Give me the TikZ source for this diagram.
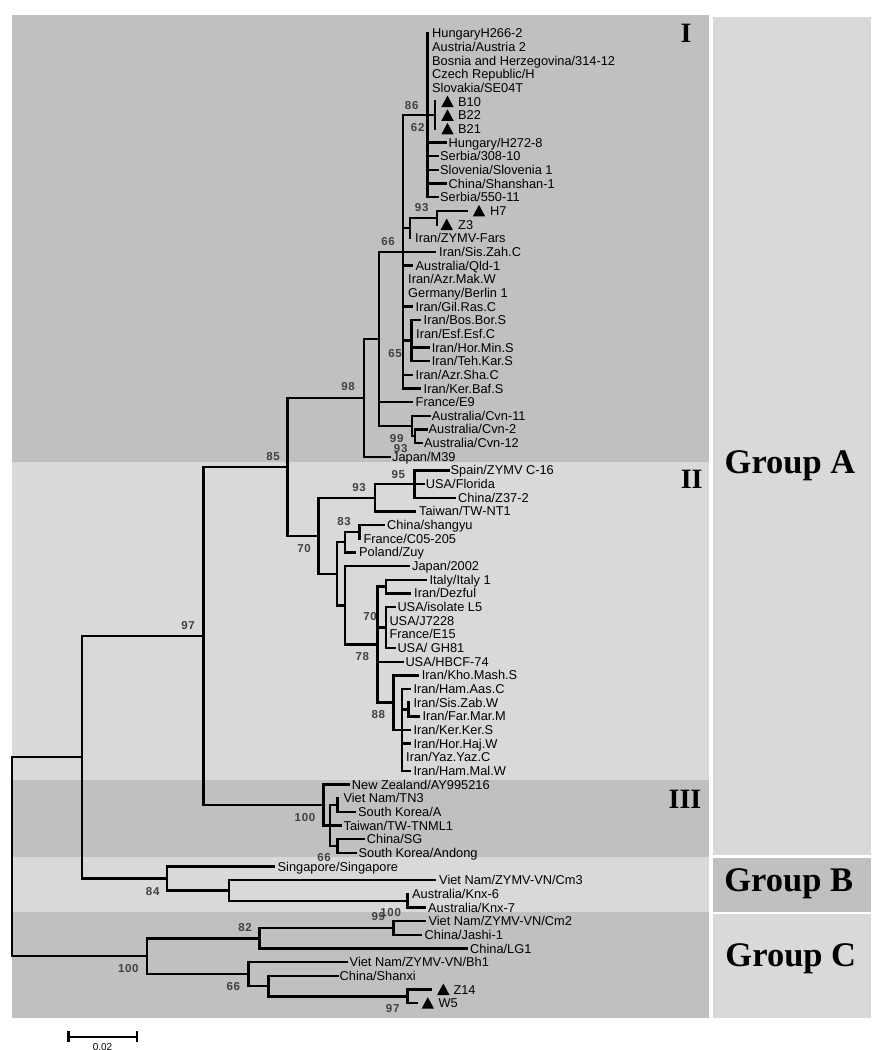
\documentclass[tikz,border=0pt]{standalone}
\usepackage{fontspec}
\setmainfont{Liberation Sans}
\newfontfamily\tipfont{Liberation Sans}
\newfontfamily\bsfont[LetterSpace=6]{Liberation Sans}
\newfontfamily\grpfont{Liberation Serif}
\definecolor{darkband}{RGB}{192,192,192}
\definecolor{lightband}{RGB}{217,217,217}
\definecolor{bsgray}{RGB}{64,64,64}
\newcommand{\mkleaf}[6]{%
  \coordinate (t#1) at (#3,#4);
  \draw[br] (#2) |- (t#1);
  \node[tip] (l#1) at (#5,#4) {#6};}
\newcommand{\bsv}[4]{\node[bs] (#1) at (#2,#3) {#4};}
\newcommand{\mytri}[1]{\fill (#1) ++(-6.2,5.5) -- ++(12.4,0) -- ++(-6.2,-11.5) -- cycle;}
\begin{document}
\begin{tikzpicture}[x=1pt,y=-1pt,
  br/.style={line width=2.4pt, line join=miter, line cap=rect, black},
  tip/.style={anchor=west, inner sep=0pt, font=\tipfont\fontsize{12.8}{13}\selectfont, text height=9.1pt, text depth=0pt},
  bs/.style={inner sep=0pt, font=\bsfont\bfseries\fontsize{11.5}{12}\selectfont, text=bsgray, text height=8.3pt, text depth=0pt},
  roman/.style={inner sep=0pt, anchor=base, font=\grpfont\bfseries\fontsize{28}{30}\selectfont},
  grp/.style={inner sep=0pt, anchor=base, font=\grpfont\bfseries\fontsize{34.5}{36}\selectfont}]
\useasboundingbox (0,0) rectangle (871,1050);
% background bands
\fill[darkband] (12,15) rectangle (709,462);
\fill[lightband] (12,462) rectangle (709,780);
\fill[darkband] (12,780) rectangle (709,857);
\fill[lightband] (12,857) rectangle (709,912);
\fill[darkband] (12,912) rectangle (709,1018);
\fill[lightband] (713,17) rectangle (871,855);
\fill[darkband] (713,858) rectangle (871,912);
\fill[lightband] (713,914) rectangle (871,1018);
% internal nodes
\coordinate (root) at (11.7,856.7);
\coordinate (A) at (81.7,757.2);
\coordinate (GA) at (203.3,635.95);
\coordinate (N85) at (287.3,466.8);
\coordinate (P98) at (364,397.9);
\coordinate (P66) at (379,338.95);
\coordinate (PP) at (403,251.9);
\coordinate (P86) at (427.3,115.25);
\coordinate (PB) at (435,115.25);
\coordinate (PF) at (410,227.95);
\coordinate (P93) at (436.7,217.7);
\coordinate (P65) at (411.5,340.65);
\coordinate (PC99) at (411.7,426.0);
\coordinate (PC93) at (415,436.25);
\coordinate (Q70) at (318.3,535.7);
\coordinate (Q93) at (375,497.7);
\coordinate (Q95) at (414.3,484.05);
\coordinate (QX) at (336.7,573.7);
\coordinate (Q83p) at (345,542.15);
\coordinate (Q83) at (359.3,531.9);
\coordinate (QY) at (345,605.3);
\coordinate (Q78) at (377.3,644.6);
\coordinate (QIt) at (386,586.55);
\coordinate (QUSA) at (386,627.5);
\coordinate (Q88) at (393.3,702.6);
\coordinate (QZ) at (401.7,729.95);
\coordinate (QW) at (408.3,709.45);
\coordinate (R100) at (323.3,805.1);
\coordinate (R330) at (330,825.6);
\coordinate (RT) at (337.3,805.1);
\coordinate (RSG) at (337.3,846.05);
\coordinate (B84) at (166.7,878.5);
\coordinate (B2) at (228.7,890.45);
\coordinate (BK) at (407.3,900.7);
\coordinate (C100) at (146.7,956.2);
\coordinate (C82) at (259.3,938.3);
\coordinate (C99) at (393.3,928.05);
\coordinate (C66) at (248.3,974.15);
\coordinate (CS) at (268.3,986.1);
\coordinate (C97) at (407.3,996.35);
% internal edges
\draw[br] (root) |- (A); \draw[br] (root) |- (C100);
\draw[br] (A) |- (GA); \draw[br] (A) |- (B84);
\draw[br] (GA) |- (N85); \draw[br] (GA) |- (R100);
\draw[br] (N85) |- (P98); \draw[br] (N85) |- (Q70);
\draw[br] (P98) |- (P66);
\draw[br] (P66) |- (PP); \draw[br] (P66) |- (PC99);
\draw[br] (PP) |- (P86); \draw[br] (PP) |- (PF); \draw[br] (PP) |- (P65);
\draw[br] (P86) |- (PB);
\draw[br] (PF) |- (P93);
\draw[br] (PC99) |- (PC93);
\draw[br] (Q70) |- (Q93); \draw[br] (Q70) |- (QX);
\draw[br] (Q93) |- (Q95);
\draw[br] (QX) |- (Q83p); \draw[br] (QX) |- (QY);
\draw[br] (Q83p) |- (Q83);
\draw[br] (QY) |- (Q78);
\draw[br] (Q78) |- (QIt); \draw[br] (Q78) |- (QUSA); \draw[br] (Q78) |- (Q88);
\draw[br] (Q88) |- (QZ);
\draw[br] (QZ) |- (QW);
\draw[br] (R100) |- (R330);
\draw[br] (R330) |- (RT); \draw[br] (R330) |- (RSG);
\draw[br] (B84) |- (B2);
\draw[br] (B2) |- (BK);
\draw[br] (C100) |- (C82); \draw[br] (C100) |- (C66);
\draw[br] (C82) |- (C99);
\draw[br] (C66) |- (CS);
\draw[br] (CS) |- (C97);
% leaves
\mkleaf{0}{P86}{427.3}{33.3}{432}{HungaryH266-2}
\mkleaf{1}{P86}{427.3}{47.0}{432}{Austria/Austria 2}
\mkleaf{2}{P86}{427.3}{60.6}{432}{Bosnia and Herzegovina/314-12}
\mkleaf{3}{P86}{427.3}{74.3}{432}{Czech Republic/H}
\mkleaf{4}{P86}{427.3}{87.9}{432}{Slovakia/SE04T}
\mkleaf{5}{PB}{435}{101.6}{458}{B10}
\mkleaf{6}{PB}{435}{115.3}{458}{B22}
\mkleaf{7}{PB}{435}{128.9}{458}{B21}
\mkleaf{8}{P86}{446}{142.6}{448.5}{Hungary/H272-8}
\mkleaf{9}{P86}{437.3}{156.2}{440}{Serbia/308-10}
\mkleaf{10}{P86}{437.3}{169.9}{440}{Slovenia/Slovenia 1}
\mkleaf{11}{P86}{446}{183.6}{448.5}{China/Shanshan-1}
\mkleaf{12}{P86}{437.3}{197.2}{440}{Serbia/550-11}
\mkleaf{13}{P93}{466.7}{210.9}{490}{H7}
\mkleaf{14}{P93}{436.7}{224.5}{458}{Z3}
\mkleaf{15}{PF}{410}{238.2}{415}{Iran/ZYMV-Fars}
\mkleaf{16}{PP}{435}{251.9}{439}{Iran/Sis.Zah.C}
\mkleaf{17}{PP}{412}{265.5}{415.5}{Australia/Qld-1}
\mkleaf{18}{PP}{403}{279.2}{408}{Iran/Azr.Mak.W}
\mkleaf{19}{PP}{403}{292.8}{408}{Germany/Berlin 1}
\mkleaf{20}{PP}{412}{306.5}{415.5}{Iran/Gil.Ras.C}
\mkleaf{21}{P65}{420}{320.2}{423.5}{Iran/Bos.Bor.S}
\mkleaf{22}{P65}{411.5}{333.8}{416}{Iran/Esf.Esf.C}
\mkleaf{23}{P65}{429}{347.5}{431.7}{Iran/Hor.Min.S}
\mkleaf{24}{P65}{429}{361.1}{431.7}{Iran/Teh.Kar.S}
\mkleaf{25}{PP}{412}{374.8}{415.5}{Iran/Azr.Sha.C}
\mkleaf{26}{PP}{420}{388.5}{423.5}{Iran/Ker.Baf.S}
\mkleaf{27}{P66}{412}{402.1}{415.5}{France/E9}
\mkleaf{28}{PC99}{429.3}{415.8}{431.7}{Australia/Cvn-11}
\mkleaf{29}{PC93}{426.7}{429.4}{428.5}{Australia/Cvn-2}
\mkleaf{30}{PC93}{421.7}{443.1}{424}{Australia/Cvn-12}
\mkleaf{31}{P98}{390}{456.8}{392}{Japan/M39}
\mkleaf{32}{Q95}{448.3}{470.4}{450.5}{Spain/ZYMV C-16}
\mkleaf{33}{Q95}{423.3}{484.1}{425.7}{USA/Florida}
\mkleaf{34}{Q95}{455}{497.7}{458}{China/Z37-2}
\mkleaf{35}{Q93}{415}{511.4}{419}{Taiwan/TW-NT1}
\mkleaf{36}{Q83}{383.3}{525.1}{387}{China/shangyu}
\mkleaf{37}{Q83}{359.3}{538.7}{363.3}{France/C05-205}
\mkleaf{38}{Q83p}{355}{552.4}{359}{Poland/Zuy}
\mkleaf{39}{QY}{408.3}{566.0}{412}{Japan/2002}
\mkleaf{40}{QIt}{425.7}{579.7}{429.3}{Italy/Italy 1}
\mkleaf{41}{QIt}{410}{593.4}{414}{Iran/Dezful}
\mkleaf{42}{QUSA}{395}{607.0}{397.3}{USA/isolate L5}
\mkleaf{43}{QUSA}{386}{620.7}{389.3}{USA/J7228}
\mkleaf{44}{QUSA}{386}{634.3}{389.3}{France/E15}
\mkleaf{45}{QUSA}{395}{648.0}{397.3}{USA/ GH81}
\mkleaf{46}{Q78}{402.7}{661.7}{405.3}{USA/HBCF-74}
\mkleaf{47}{Q88}{417.3}{675.3}{421.7}{Iran/Kho.Mash.S}
\mkleaf{48}{QZ}{410}{689.0}{413.3}{Iran/Ham.Aas.C}
\mkleaf{49}{QW}{408.3}{702.6}{413.3}{Iran/Sis.Zab.W}
\mkleaf{50}{QW}{418.3}{716.3}{422.3}{Iran/Far.Mar.M}
\mkleaf{51}{QZ}{410}{730.0}{413.3}{Iran/Ker.Ker.S}
\mkleaf{52}{QZ}{410}{743.6}{413.3}{Iran/Hor.Haj.W}
\mkleaf{53}{QZ}{401.7}{757.3}{406}{Iran/Yaz.Yaz.C}
\mkleaf{54}{QZ}{410}{770.9}{413.3}{Iran/Ham.Mal.W}
\mkleaf{55}{R100}{348.3}{784.6}{351.7}{New Zealand/AY995216}
\mkleaf{56}{RT}{337.3}{798.3}{343.3}{Viet Nam/TN3}
\mkleaf{57}{RT}{355}{811.9}{358}{South Korea/A}
\mkleaf{58}{R330}{340.5}{825.6}{343.5}{Taiwan/TW-TNML1}
\mkleaf{59}{RSG}{363.3}{839.2}{366.7}{China/SG}
\mkleaf{60}{RSG}{355.5}{852.9}{358.5}{South Korea/Andong}
\mkleaf{61}{B84}{273.3}{866.6}{277.5}{Singapore/Singapore}
\mkleaf{62}{B2}{435}{880.2}{439}{Viet Nam/ZYMV-VN/Cm3}
\mkleaf{63}{BK}{407.3}{893.9}{412}{Australia/Knx-6}
\mkleaf{64}{BK}{424.3}{907.5}{428}{Australia/Knx-7}
\mkleaf{65}{C99}{425}{921.2}{428.3}{Viet Nam/ZYMV-VN/Cm2}
\mkleaf{66}{C99}{420.7}{934.9}{424.5}{China/Jashi-1}
\mkleaf{67}{C82}{466.7}{948.5}{470}{China/LG1}
\mkleaf{68}{C66}{346.7}{962.2}{349.5}{Viet Nam/ZYMV-VN/Bh1}
\mkleaf{69}{CS}{337.3}{975.8}{339.5}{China/Shanxi}
\mkleaf{70}{C97}{431}{989.5}{453.3}{Z14}
\mkleaf{71}{C97}{416.7}{1003.2}{438.3}{W5}
% triangles
\mytri{447.5,101.6}
\mytri{447.5,115.3}
\mytri{447.5,128.9}
\mytri{479,210.9}
\mytri{446.7,224.5}
\mytri{443.3,989.5}
\mytri{427.8,1003.2}
% bootstrap values
\bsv{b1}{411.7}{105}{86}
\bsv{b2}{417.7}{127.3}{62}
\bsv{b3}{421.7}{207.3}{93}
\bsv{b4}{388}{241.7}{66}
\bsv{b5}{395}{353.3}{65}
\bsv{b6}{348}{386.7}{98}
\bsv{b7}{396.7}{438.3}{99}
\bsv{b8}{400.7}{448.3}{93}
\bsv{b9}{273}{456.7}{85}
\bsv{b10}{398.3}{474}{95}
\bsv{b11}{359}{487.3}{93}
\bsv{b12}{344}{521.7}{83}
\bsv{b13}{304}{548.3}{70}
\bsv{b14}{370}{616.7}{70}
\bsv{b15}{362.3}{656}{78}
\bsv{b16}{378.3}{714.3}{88}
\bsv{b17}{188}{625.7}{97}
\bsv{b18}{305}{817.7}{100}
\bsv{b19}{324}{857.3}{66}
\bsv{b20}{152.7}{891}{84}
\bsv{b21}{390.7}{912.7}{100}
\bsv{b22}{378.3}{916.7}{99}
\bsv{b23}{245}{927.7}{82}
\bsv{b24}{128.3}{968.3}{100}
\bsv{b25}{233.3}{986.7}{66}
\bsv{b26}{392.7}{1008.3}{97}
% clade labels
\node[roman] (rI) at (686,42.3) {I};
\node[roman] (rII) at (691.7,488.3) {II};
\node[roman] (rIII) at (685,808.3) {III};
\node[grp] (gA) at (790,473.3) {Group A};
\node[grp] (gB) at (788.7,891.7) {Group B};
\node[grp] (gC) at (790.8,966.7) {Group C};
% scale bar
\coordinate (s1) at (68.3,1036.7);
\coordinate (s2) at (136.7,1036.7);
\draw[line width=2.4pt] (s1) -- (s2);
\draw[line width=2.4pt] ([yshift=5.5pt]s1) -- ([yshift=-5.5pt]s1);
\draw[line width=2.4pt] ([yshift=5.5pt]s2) -- ([yshift=-5.5pt]s2);
\node[inner sep=0pt, anchor=base, font=\tipfont\fontsize{10}{11}\selectfont] (sl) at (102.5,1050.5) {0.02};
\end{tikzpicture}
\end{document}
